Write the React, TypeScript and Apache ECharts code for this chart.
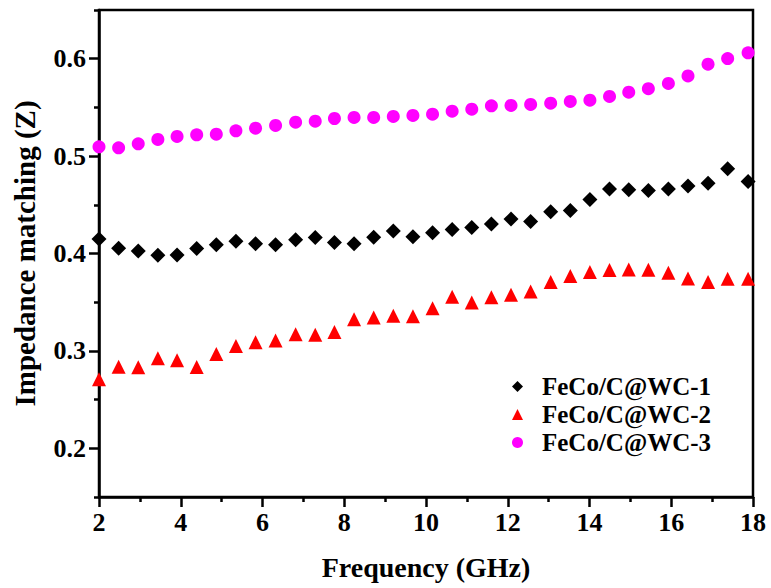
import React, { useEffect, useRef } from "react";
import * as echarts from "echarts";

const freq = [
  2.0, 2.48, 2.96, 3.44, 3.91, 4.39, 4.87, 5.35, 5.83, 6.32, 6.81, 7.29, 7.76, 8.24, 8.72, 9.2, 9.68,
  10.16, 10.64, 11.12, 11.6, 12.08, 12.56, 13.05, 13.53, 14.01, 14.49, 14.96, 15.44, 15.93, 16.41, 16.9, 17.38, 17.88,
];

const wc1 = [
  0.4148, 0.4055, 0.4025, 0.3981, 0.3984, 0.4052, 0.4089, 0.4127, 0.41, 0.4089, 0.4141, 0.4165, 0.4114, 0.41, 0.4168, 0.423, 0.4171,
  0.4212, 0.4247, 0.4268, 0.4302, 0.4353, 0.4329, 0.4428, 0.4442, 0.4555, 0.4661, 0.4654, 0.4648, 0.4661, 0.4692, 0.472, 0.4869, 0.474,
];

const wc2 = [
  0.2708, 0.2837, 0.2831, 0.2924, 0.2903, 0.2834, 0.2968, 0.305, 0.3088, 0.3108, 0.317, 0.3166, 0.3193, 0.3324, 0.3344, 0.3361, 0.3355,
  0.3437, 0.3556, 0.3498, 0.355, 0.3576, 0.3611, 0.3707, 0.3768, 0.3809, 0.383, 0.3837, 0.3833, 0.3802, 0.3744, 0.3707, 0.374, 0.374,
];

const wc3 = [
  0.5095, 0.5085, 0.5126, 0.5171, 0.5202, 0.5218, 0.5225, 0.5259, 0.5287, 0.5315, 0.5348, 0.5359, 0.5386, 0.5397, 0.5397, 0.5407, 0.5417,
  0.543, 0.5461, 0.5482, 0.5516, 0.552, 0.553, 0.5543, 0.5561, 0.5574, 0.5612, 0.5656, 0.5692, 0.5746, 0.5823, 0.5944, 0.6002, 0.606,
];

const seriesNames = ["FeCo/C@WC-1", "FeCo/C@WC-2", "FeCo/C@WC-3"];
const yMajorTicks = [0.2, 0.3, 0.4, 0.5, 0.6];
const yMinorTicks = [0.15, 0.25, 0.35, 0.45, 0.55, 0.65];

const FONT = "'Liberation Serif', 'Times New Roman', serif";

export default function App() {
  const ref = useRef<HTMLDivElement>(null);
  useEffect(() => {
    if (!ref.current) return;
    const chart = echarts.init(ref.current, undefined, { renderer: "svg" });
    const pair = (ys: number[]) => ys.map((y, i) => [freq[i], y]);
    chart.setOption({
      animation: false,
      backgroundColor: "#ffffff",
      textStyle: { fontFamily: FONT },
      grid: {
        left: 99,
        right: 18,
        top: 10,
        bottom: 91,
        show: true,
        borderColor: "#000",
        borderWidth: 2.5,
        backgroundColor: "transparent",
      },
      legend: {
        orient: "vertical",
        left: 507,
        top: 369,
        itemGap: 3,
        itemWidth: 11,
        itemHeight: 11,
        textStyle: {
          fontFamily: FONT,
          fontWeight: "bold",
          fontSize: 25,
          color: "#000",
          padding: [0, 0, 0, 14],
        },
        data: [
          { name: seriesNames[0], icon: "diamond" },
          { name: seriesNames[1], icon: "triangle" },
          { name: seriesNames[2], icon: "circle" },
        ],
      },
      xAxis: {
        type: "value",
        min: 2,
        max: 18,
        interval: 2,
        name: "Frequency (GHz)",
        nameLocation: "middle",
        nameGap: 56,
        nameTextStyle: { fontFamily: FONT, fontWeight: "bold", fontSize: 28, color: "#000" },
        axisLine: { show: true, lineStyle: { color: "#000", width: 2.5 } },
        axisTick: { show: true, length: 10, lineStyle: { color: "#000", width: 2.5 } },
        minorTick: { show: true, splitNumber: 2, length: 5, lineStyle: { color: "#000", width: 2.5 } },
        axisLabel: { margin: 12, fontFamily: FONT, fontWeight: "bold", fontSize: 26, color: "#000" },
        splitLine: { show: false },
      },
      yAxis: [
        {
          type: "value",
          min: 0.15,
          max: 0.65,
          name: "Impedance matching (Z)",
          nameLocation: "middle",
          nameGap: 60,
          nameTextStyle: { fontFamily: FONT, fontWeight: "bold", fontSize: 29, color: "#000" },
          axisLine: { show: true, lineStyle: { color: "#000", width: 2.5 } },
          axisTick: { show: true, length: 10, customValues: yMajorTicks, lineStyle: { color: "#000", width: 2.5 } },
          axisLabel: {
            margin: 13,
            customValues: yMajorTicks,
            formatter: (v: number) => v.toFixed(1),
            fontFamily: FONT,
            fontWeight: "bold",
            fontSize: 26,
            color: "#000",
          },
          splitLine: { show: false },
        },
        {
          type: "value",
          min: 0.15,
          max: 0.65,
          position: "left",
          axisLine: { show: false },
          axisTick: { show: true, length: 5, customValues: yMinorTicks, lineStyle: { color: "#000", width: 2.5 } },
          axisLabel: { show: false },
          splitLine: { show: false },
        },
      ],
      series: [
        {
          name: seriesNames[0],
          type: "scatter",
          symbol: "diamond",
          symbolSize: 15,
          itemStyle: { color: "#000000", opacity: 1 },
          data: pair(wc1),
        },
        {
          name: seriesNames[1],
          type: "scatter",
          symbol: "triangle",
          symbolSize: 14,
          itemStyle: { color: "#ff0000", opacity: 1 },
          data: pair(wc2),
        },
        {
          name: seriesNames[2],
          type: "scatter",
          symbol: "circle",
          symbolSize: 13,
          itemStyle: { color: "#ff00ff", opacity: 1 },
          data: pair(wc3),
        },
      ],
    });
    return () => chart.dispose();
  }, []);
  return (
    <div
      ref={ref}
      style={{ position: "absolute", left: 0, top: 0, width: 771, height: 588, background: "#fff" }}
    />
  );
}
